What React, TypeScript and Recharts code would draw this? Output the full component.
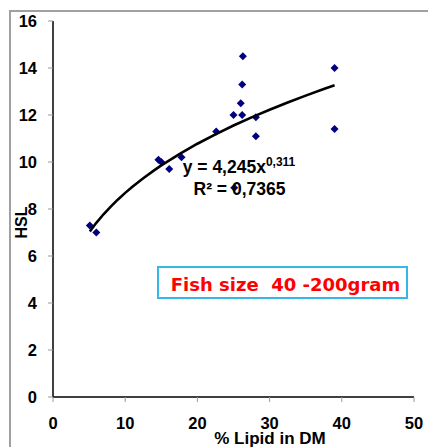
import React from 'react';
import { ScatterChart, Scatter, XAxis, YAxis } from 'recharts';

// Measured points: % lipid in dry matter vs HSL
const lipidPct = [5.1, 6.0, 14.6, 15.0, 16.1, 17.8, 22.6, 25.0, 25.1, 26.0, 26.2, 26.2, 26.3, 28.1, 28.1, 39.0, 39.0];
const hslValues = [7.3, 7.0, 10.1, 10.0, 9.7, 10.2, 11.3, 12.0, 8.9, 12.5, 12.0, 13.3, 14.5, 11.9, 11.1, 14.0, 11.4];

// Power trendline shown on the chart: y = 4,245 x^0,311
const trendA = 4.245;
const trendB = 0.311;
const trendX = [5.1, 6, 7, 8, 9, 10, 11, 12.5, 14, 15, 17.5, 20, 22.5, 25, 27.5, 30, 32.5, 35, 37.5, 39];

const xTicks = [0, 10, 20, 30, 40, 50];
const yTicks = [0, 2, 4, 6, 8, 10, 12, 14, 16];

const points = lipidPct.map((x, i) => ({ x, y: hslValues[i] }));
const trend = trendX.map((x) => ({ x, y: trendA * Math.pow(x, trendB) }));

const FONT = 'Liberation Sans, Arial, sans-serif';

const Diamond = (props: any) => {
  const { cx, cy } = props;
  if (cx == null || cy == null) return <g />;
  const r = 4;
  return (
    <polygon
      points={`${cx},${cy - r} ${cx + r},${cy} ${cx},${cy + r} ${cx - r},${cy}`}
      fill="#000080"
    />
  );
};

const tickStyle = { fontSize: 16.5, fontWeight: 700, fill: '#000', fontFamily: FONT };

export default function App() {
  return (
    <div style={{ position: 'absolute', left: 0, top: 0, width: 428, height: 447, background: '#fff', overflow: 'hidden' }}>
      <div style={{ position: 'absolute', left: 9, top: 10, width: 600, height: 600, borderLeft: '2px solid #a0a0a0', borderTop: '2px solid #a0a0a0' }} />
      <div style={{ position: 'absolute', left: 0, top: 0 }}>
        <ScatterChart width={428} height={447} margin={{ top: 21, right: 14, bottom: 0, left: 0 }}>
          <XAxis
            type="number"
            dataKey="x"
            domain={[0, 50]}
            ticks={xTicks}
            height={50}
            axisLine={{ stroke: '#000', strokeWidth: 1.5 }}
            tickLine={{ stroke: '#999' }}
            tickSize={5}
            tickMargin={15}
            tick={tickStyle}
            interval={0}
            allowDataOverflow
          />
          <YAxis
            type="number"
            dataKey="y"
            domain={[0, 16]}
            ticks={yTicks}
            width={53}
            axisLine={{ stroke: '#000', strokeWidth: 1.5 }}
            tickLine={{ stroke: '#999' }}
            tickSize={5}
            tickMargin={11}
            tick={tickStyle}
            interval={0}
            allowDataOverflow
          />
          <Scatter data={points} shape={<Diamond />} isAnimationActive={false} />
          <Scatter
            data={trend}
            line={{ stroke: '#000', strokeWidth: 2.6 }}
            lineType="joint"
            shape={() => <g />}
            isAnimationActive={false}
          />
        </ScatterChart>
      </div>
      <svg width={428} height={447} style={{ position: 'absolute', left: 0, top: 0, pointerEvents: 'none' }}>
        <text x={239} y={173} textAnchor="middle" fontFamily={FONT} fontWeight={700} fontSize={17.5} fill="#000">
          y = 4,245x
          <tspan fontSize={12} dy={-7}>0,311</tspan>
        </text>
        <text x={239.5} y={195} textAnchor="middle" fontFamily={FONT} fontWeight={700} fontSize={17.5} fill="#000">
          R² = 0,7365
        </text>
        <rect x={158} y={267} width={249} height={31} fill="#fff" stroke="#38b6e6" strokeWidth={2} />
        <text
          x={285.5}
          y={291}
          textAnchor="middle"
          fontFamily="DejaVu Sans, Verdana, sans-serif"
          fontWeight={700}
          fontSize={18}
          fill="#ff0000"
          style={{ whiteSpace: 'pre' }}
        >
          {'Fish size  40 -200gram'}
        </text>
        <text x={270} y={444} textAnchor="middle" fontFamily={FONT} fontWeight={700} fontSize={17} fill="#000">
          % Lipid in DM
        </text>
        <text
          x={27}
          y={222.5}
          textAnchor="middle"
          transform="rotate(-90 27 222.5)"
          fontFamily={FONT}
          fontWeight={700}
          fontSize={16}
          fill="#000"
        >
          HSL
        </text>
      </svg>
    </div>
  );
}
